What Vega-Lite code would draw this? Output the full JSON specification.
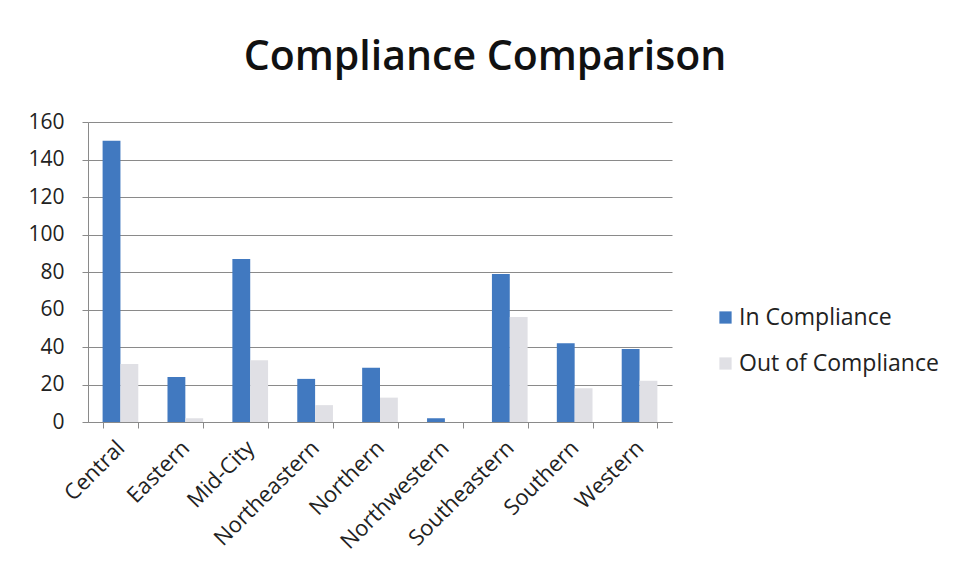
{
  "$schema": "https://vega.github.io/schema/vega-lite/v6.json",
  "width": 584,
  "height": 300,
  "autosize": {"type": "none"},
  "padding": {"left": 88, "top": 122, "right": 281, "bottom": 159},
  "background": "white",
  "title": {
    "text": "Compliance Comparison",
    "font": "Open Sans",
    "fontSize": 41,
    "fontWeight": 600,
    "color": "#111111",
    "anchor": "middle",
    "frame": "group",
    "dx": 105,
    "offset": 32
  },
  "data": {
    "values": [
      {"district": "Central", "status": "In Compliance", "count": 150},
      {"district": "Central", "status": "Out of Compliance", "count": 31},
      {"district": "Eastern", "status": "In Compliance", "count": 24},
      {"district": "Eastern", "status": "Out of Compliance", "count": 2},
      {"district": "Mid-City", "status": "In Compliance", "count": 87},
      {"district": "Mid-City", "status": "Out of Compliance", "count": 33},
      {"district": "Northeastern", "status": "In Compliance", "count": 23},
      {"district": "Northeastern", "status": "Out of Compliance", "count": 9},
      {"district": "Northern", "status": "In Compliance", "count": 29},
      {"district": "Northern", "status": "Out of Compliance", "count": 13},
      {"district": "Northwestern", "status": "In Compliance", "count": 2},
      {"district": "Northwestern", "status": "Out of Compliance", "count": 0},
      {"district": "Southeastern", "status": "In Compliance", "count": 79},
      {"district": "Southeastern", "status": "Out of Compliance", "count": 56},
      {"district": "Southern", "status": "In Compliance", "count": 42},
      {"district": "Southern", "status": "Out of Compliance", "count": 18},
      {"district": "Western", "status": "In Compliance", "count": 39},
      {"district": "Western", "status": "Out of Compliance", "count": 22}
    ]
  },
  "mark": {"type": "bar"},
  "encoding": {
    "x": {
      "field": "district",
      "type": "nominal",
      "sort": null,
      "scale": {"paddingInner": 0.45, "paddingOuter": 0.225},
      "axis": {
        "title": null,
        "labelAngle": -45,
        "labelAlign": "right",
        "labelBaseline": "middle",
        "labelFont": "Open Sans",
        "labelFontSize": 22,
        "labelColor": "#222222",
        "labelPadding": 16,
        "domainColor": "#8a8a8a",
        "tickColor": "#8a8a8a",
        "tickBand": "extent",
        "tickSize": 6
      }
    },
    "xOffset": {"field": "status", "type": "nominal"},
    "y": {
      "field": "count",
      "type": "quantitative",
      "scale": {"domain": [0, 160], "nice": false},
      "axis": {
        "title": null,
        "values": [0, 20, 40, 60, 80, 100, 120, 140, 160],
        "labelFont": "Open Sans",
        "labelFontSize": 21,
        "labelColor": "#222222",
        "labelPadding": 18,
        "domainColor": "#8a8a8a",
        "tickColor": "#8a8a8a",
        "tickSize": 6,
        "gridColor": "#8a8a8a",
        "gridWidth": 1
      }
    },
    "color": {
      "field": "status",
      "type": "nominal",
      "scale": {"domain": ["In Compliance", "Out of Compliance"], "range": ["#4179c0", "#e0e0e5"]},
      "legend": {
        "title": null,
        "orient": "none",
        "legendX": 626,
        "legendY": 184,
        "symbolType": "square",
        "symbolSize": 150,
        "symbolStrokeWidth": 0,
        "labelFont": "Open Sans",
        "labelFontSize": 23,
        "labelColor": "#222222",
        "labelLimit": 300,
        "rowPadding": 22,
        "labelOffset": 2
      }
    }
  },
  "config": {
    "view": {"stroke": null}
  }
}
